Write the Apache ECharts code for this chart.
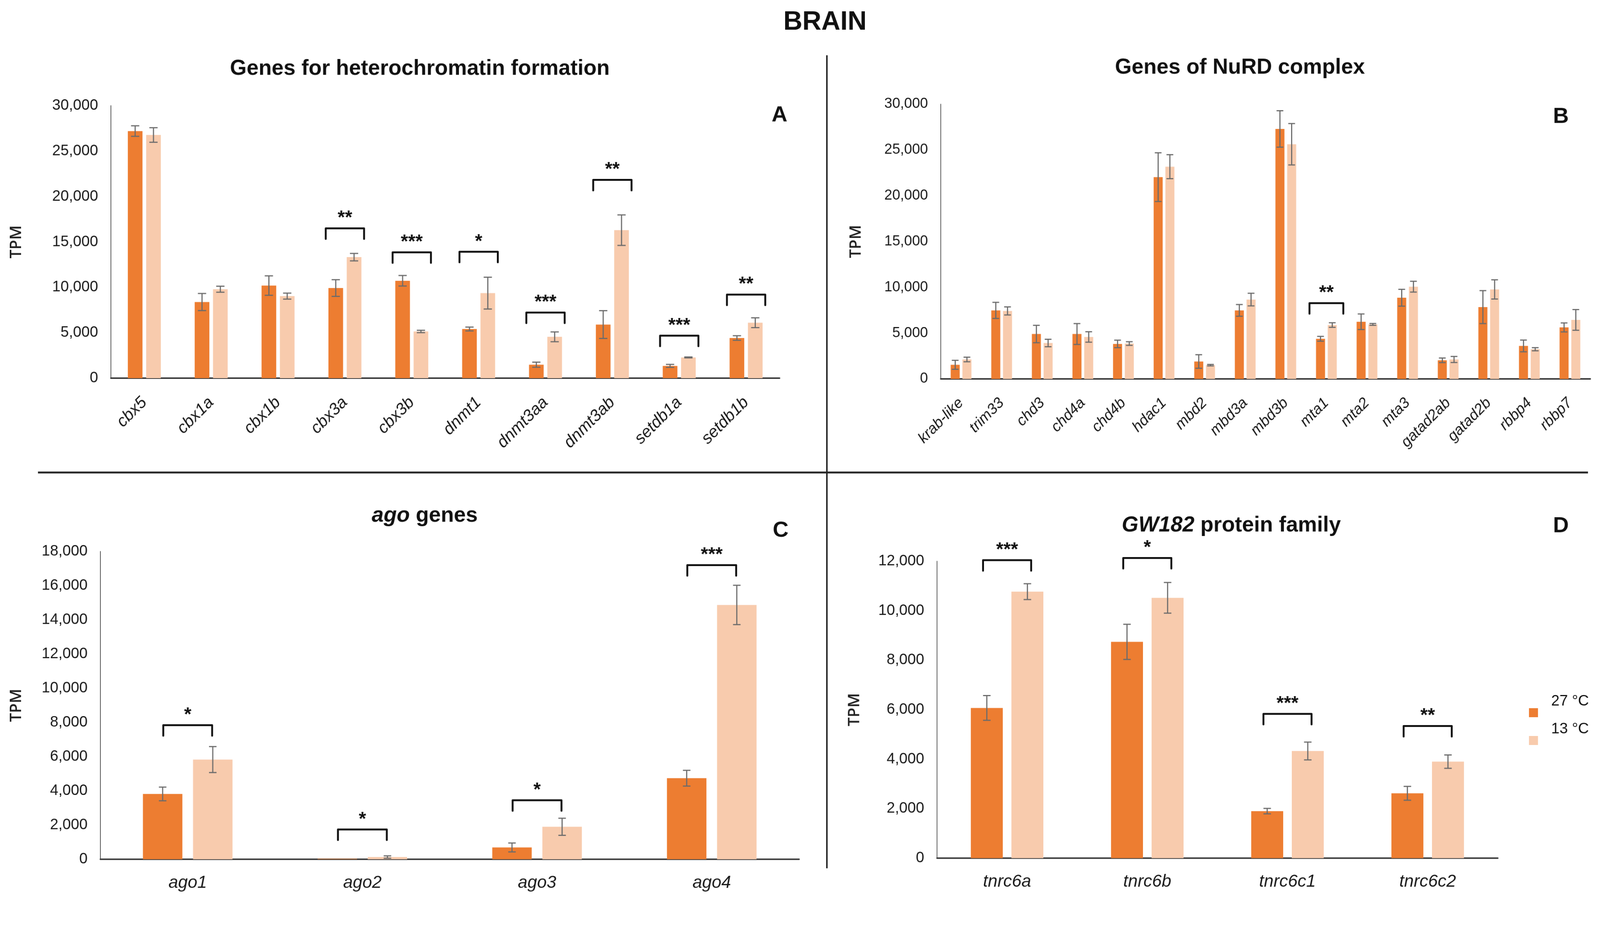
<!DOCTYPE html>
<html><head><meta charset="utf-8">
<script src="https://cdn.jsdelivr.net/npm/echarts@6/dist/echarts.min.js"></script>
<style>html,body{margin:0;padding:0;background:#fff;overflow:hidden}#c{width:4257px;height:2396px;transform-origin:0 0}</style>
</head><body><div id="c"></div>
<script>
// ---------- DATA ----------
const seriesNames = ['27 °C', '13 °C'];

const catsA = ['cbx5','cbx1a','cbx1b','cbx3a','cbx3b','dnmt1','dnmt3aa','dnmt3ab','setdb1a','setdb1b'];
const warmA = [27200, 8380, 10190, 9920, 10720, 5410, 1480, 5900, 1350, 4420];
const warmErrA = [580, 940, 1070, 920, 580, 210, 280, 1530, 165, 250];
const coldA = [26770, 9790, 9030, 13320, 5140, 9360, 4550, 16290, 2280, 6100];
const coldErrA = [800, 330, 330, 410, 130, 1750, 540, 1680, 50, 540];
const sigA = [[3, 16490, 2], [4, 13850, 3], [5, 13910, 1], [6, 7220, 3], [7, 21830, 2], [8, 4680, 3], [9, 9200, 2]];

const catsB = ['krab-like','trim33','chd3','chd4a','chd4b','hdac1','mbd2','mbd3a','mbd3b','mta1','mta2','mta3','gatad2ab','gatad2b','rbbp4','rbbp7'];
const warmB = [1540, 7480, 4900, 4900, 3820, 22030, 1900, 7480, 27290, 4380, 6240, 8860, 2030, 7840, 3600, 5620];
const warmErrB = [490, 880, 950, 1140, 410, 2660, 740, 640, 1990, 260, 850, 920, 250, 1800, 640, 490];
const coldB = [2120, 7420, 3920, 4580, 3860, 23170, 1500, 8660, 25620, 5880, 5950, 10070, 2120, 9770, 3240, 6440];
const coldErrB = [250, 440, 410, 570, 200, 1310, 80, 690, 2260, 250, 100, 590, 330, 1050, 170, 1130];
const sigB = [[9, 8270, 2]];

const catsC = ['ago1','ago2','ago3','ago4'];
const warmC = [3820, 30, 690, 4740];
const warmErrC = [400, 0, 260, 460];
const coldC = [5830, 130, 1900, 14870];
const coldErrC = [760, 70, 500, 1150];
const sigC = [[0, 7840, 1], [1, 1740, 1], [2, 3450, 1], [3, 17200, 3]];

const catsD = ['tnrc6a','tnrc6b','tnrc6c1','tnrc6c2'];
const warmD = [6070, 8740, 1900, 2620];
const warmErrD = [500, 710, 110, 280];
const coldD = [10770, 10520, 4330, 3900];
const coldErrD = [320, 620, 360, 270];
const sigD = [[0, 12040, 3], [1, 12130, 1], [2, 5830, 3], [3, 5340, 2]];

const yTicksA = {max: 30000, interval: 5000};
const yTicksB = {max: 30000, interval: 5000};
const yTicksC = {max: 18000, interval: 2000};
const yTicksD = {max: 12000, interval: 2000};

// ---------- FIT PAGE TO VIEWPORT ----------
const box = document.getElementById('c');
const fit = Math.min(window.innerWidth / 4257, window.innerHeight / 2396);
if (Math.abs(fit - 1) > 0.002) box.style.transform = 'scale(' + fit + ')';

// ---------- STYLE / LAYOUT ----------
const FONT = '"Liberation Sans", Arial, sans-serif';
const DARK = '#ED7D31', LIGHT = '#F8CBAD';
const panels = [
  {cats: catsA, warm: warmA, warmErr: warmErrA, cold: coldA, coldErr: coldErrA, sig: sigA, ticks: yTicksA,
   grid: {left: 295, top: 281, width: 1779, height: 725}, barW: 39, gap: 0.25, half: 51, rotate: 45, lab: 44, tick: 40, nameGap: 230, cap: 22},
  {cats: catsB, warm: warmB, warmErr: warmErrB, cold: coldB, coldErr: coldErrB, sig: sigB, ticks: yTicksB,
   grid: {left: 2503, top: 277, width: 1728, height: 731}, barW: 24, gap: 0.3, half: 45, rotate: 45, lab: 40, tick: 38, nameGap: 204, cap: 18},
  {cats: catsC, warm: warmC, warmErr: warmErrC, cold: coldC, coldErr: coldErrC, sig: sigC, ticks: yTicksC,
   grid: {left: 267, top: 1467, width: 1859, height: 819}, barW: 105, gap: 0.27, half: 65, rotate: 0, lab: 46, tick: 40, nameGap: 202, cap: 20},
  {cats: catsD, warm: warmD, warmErr: warmErrD, cold: coldD, coldErr: coldErrD, sig: sigD, ticks: yTicksD,
   grid: {left: 2493, top: 1493, width: 1492, height: 790}, barW: 85, gap: 0.27, half: 64, rotate: 0, lab: 46, tick: 40, nameGap: 198, cap: 20}
];

const grids = [], xAxes = [], yAxes = [], series = [];
panels.forEach((p, k) => {
  grids.push(Object.assign({containLabel: false, outerBoundsMode: 'none'}, p.grid));
  xAxes.push({
    type: 'category', gridIndex: k, data: p.cats,
    axisLine: {lineStyle: {color: '#3a3a3a', width: 4}},
    axisTick: {show: false},
    axisLabel: {interval: 0, rotate: p.rotate, fontStyle: 'italic', fontFamily: FONT, fontSize: p.lab,
      color: '#1a1a1a', margin: p.rotate ? 58 : 40}
  });
  yAxes.push({
    type: 'value', gridIndex: k, min: 0, max: p.ticks.max, interval: p.ticks.interval,
    name: 'TPM', nameLocation: 'middle', nameGap: p.nameGap, nameRotate: 90,
    nameTextStyle: {fontFamily: '"Open Sans", ' + FONT, fontSize: 42, color: '#222', fontWeight: 600},
    axisLine: {show: true, lineStyle: {color: '#555', width: 2}},
    axisTick: {show: false},
    splitLine: {show: false},
    axisLabel: {fontFamily: FONT, fontSize: p.tick, color: '#1a1a1a', margin: 34,
      formatter: v => v.toLocaleString('en-US')}
  });
  const shift = (p.barW + p.gap * p.barW) / 2;
  series.push({name: seriesNames[0], type: 'bar', xAxisIndex: k, yAxisIndex: k, data: p.warm,
    barWidth: p.barW, barGap: (p.gap * 100) + '%', itemStyle: {color: DARK}, z: 2});
  series.push({name: seriesNames[1], type: 'bar', xAxisIndex: k, yAxisIndex: k, data: p.cold,
    barWidth: p.barW, barGap: (p.gap * 100) + '%', itemStyle: {color: LIGHT}, z: 2});
  [[p.warm, p.warmErr, -shift], [p.cold, p.coldErr, shift]].forEach(([vals, errs, dx]) => {
    series.push({
      type: 'custom', xAxisIndex: k, yAxisIndex: k, z: 5, silent: true, clip: false,
      data: vals.map((v, i) => [i, v, errs[i]]),
      renderItem: (params, api) => {
        const i = api.value(0), v = api.value(1), e = api.value(2);
        if (!e) return null;
        const x = api.coord([i, v])[0] + dx;
        const yHi = api.coord([i, v + e])[1], yLo = api.coord([i, Math.max(0, v - e)])[1];
        const c = p.cap / 2;
        const st = {stroke: '#6b6b6b', lineWidth: 3};
        return {type: 'group', children: [
          {type: 'line', shape: {x1: x, y1: yHi, x2: x, y2: yLo}, style: st},
          {type: 'line', shape: {x1: x - c, y1: yHi, x2: x + c, y2: yHi}, style: st},
          {type: 'line', shape: {x1: x - c, y1: yLo, x2: x + c, y2: yLo}, style: st}
        ]};
      }
    });
  });
  series.push({
    type: 'custom', xAxisIndex: k, yAxisIndex: k, z: 6, silent: true, clip: false,
    data: p.sig,
    renderItem: (params, api) => {
      const i = api.value(0), top = api.value(1), n = api.value(2);
      const pt = api.coord([i, top]);
      const xc = pt[0], y = pt[1], h = p.half;
      return {type: 'group', children: [
        {type: 'polyline', shape: {points: [[xc - h, y + 28], [xc - h, y], [xc + h, y], [xc + h, y + 28]]},
         style: {stroke: '#111', lineWidth: 5, fill: null, lineJoin: 'round', lineCap: 'round'}},
        {type: 'text', style: {x: xc, y: y - 26, text: '*'.repeat(n), align: 'center', verticalAlign: 'middle',
          font: 'bold 50px ' + FONT, fill: '#111'}}
      ]};
    }
  });
});

const titleFont = 'bold 57px ' + FONT;
const richI = {i: {fontStyle: 'italic', fontWeight: 'bold', fontSize: 57, fontFamily: FONT, fill: '#111'}};
const graphic = [
  {type: 'text', style: {x: 2195, y: 60, text: 'BRAIN', align: 'center', verticalAlign: 'middle', font: 'bold 70px ' + FONT, fill: '#111'}},
  {type: 'text', style: {x: 1117, y: 183, text: 'Genes for heterochromatin formation', align: 'center', verticalAlign: 'middle', font: titleFont, fill: '#111'}},
  {type: 'text', style: {x: 3299, y: 180, text: 'Genes of NuRD complex', align: 'center', verticalAlign: 'middle', font: titleFont, fill: '#111'}},
  {type: 'text', style: {x: 1130, y: 1372, text: '{i|ago} genes', align: 'center', verticalAlign: 'middle', font: titleFont, fill: '#111', rich: richI}},
  {type: 'text', style: {x: 3276, y: 1398, text: '{i|GW182} protein family', align: 'center', verticalAlign: 'middle', font: titleFont, fill: '#111', rich: richI}},
  {type: 'text', style: {x: 2074, y: 307, text: 'A', align: 'center', verticalAlign: 'middle', font: 'bold 58px ' + FONT, fill: '#111'}},
  {type: 'text', style: {x: 4153, y: 311, text: 'B', align: 'center', verticalAlign: 'middle', font: 'bold 58px ' + FONT, fill: '#111'}},
  {type: 'text', style: {x: 2077, y: 1412, text: 'C', align: 'center', verticalAlign: 'middle', font: 'bold 58px ' + FONT, fill: '#111'}},
  {type: 'text', style: {x: 4153, y: 1400, text: 'D', align: 'center', verticalAlign: 'middle', font: 'bold 58px ' + FONT, fill: '#111'}},
  {type: 'line', shape: {x1: 101, y1: 1257, x2: 4225, y2: 1257}, style: {stroke: '#222', lineWidth: 5}},
  {type: 'line', shape: {x1: 2200, y1: 147, x2: 2200, y2: 2310}, style: {stroke: '#222', lineWidth: 4}}
];

// legend swatch sits low in its box so the label reads above it, as in the reference
const swatch = 'path://M0,0 M0,60 L24,60 L24,84 L0,84 Z M54,0';

const chart = echarts.init(box, null, {renderer: 'canvas', width: 4257, height: 2396});
chart.setOption({
  backgroundColor: '#fff',
  animation: false,
  grid: grids, xAxis: xAxes, yAxis: yAxes, series: series, graphic: graphic,
  legend: {
    data: seriesNames, orient: 'vertical', left: 4063, top: 1819,
    icon: swatch, itemWidth: 54, itemHeight: 84, itemGap: -10,
    textStyle: {fontFamily: FONT, fontSize: 40, color: '#111'}
  }
});
</script>
</body></html>
